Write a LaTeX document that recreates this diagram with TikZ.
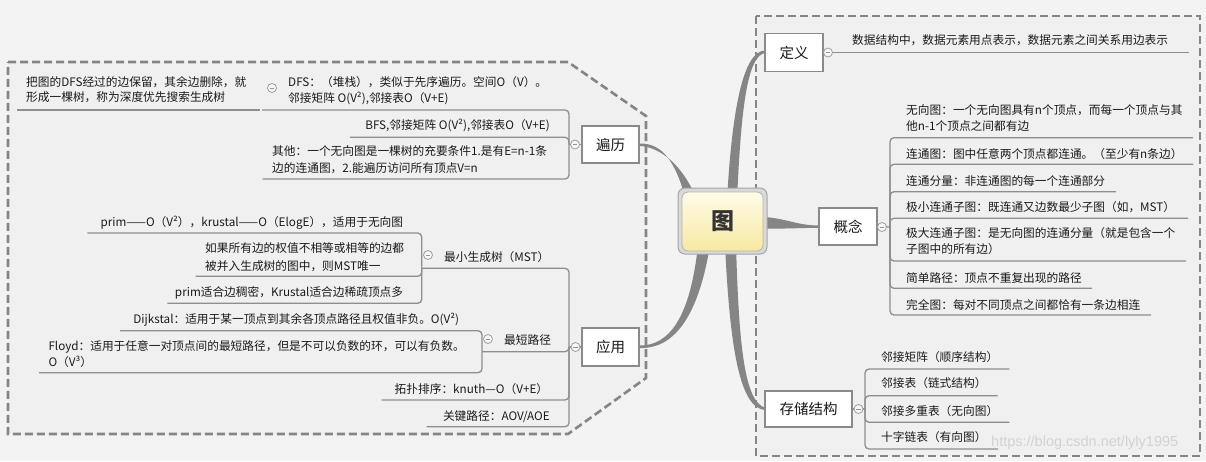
\documentclass[tikz,border=0pt]{standalone}
\usepackage{fontspec}
\setmainfont{Noto Sans CJK SC}
\newfontfamily\wmfont{Liberation Sans}
\definecolor{bg}{HTML}{F3F3F3}
\definecolor{regionbg}{HTML}{F0F0F0}
\definecolor{dashc}{HTML}{858585}
\definecolor{branch}{HTML}{858585}
\definecolor{lineg}{HTML}{8E8E8E}
\definecolor{boxb}{HTML}{8A8A8A}
\definecolor{txt}{HTML}{1A1A1A}
\definecolor{rtop}{HTML}{FFFBE8}
\definecolor{rbot}{HTML}{F7E9A2}
\tikzset{
  region/.style={draw=dashc, line width=2.6, dash pattern=on 8 off 4, fill=regionbg},
  sub/.style={draw=lineg, line width=1.3, rounded corners=4},
  topic/.style={draw=boxb, line width=1.6, fill=white, inner sep=0,
    font=\fontsize{14.5}{16}\selectfont, text=txt},
  lbl/.style={inner sep=0, anchor=base west, yshift=-4.4pt, font=\fontsize{11.7}{14}\selectfont, text=txt},
  lblr/.style={lbl, anchor=base east},
  col/.style={circle, draw=gray!75, fill=white!94!gray, line width=0.8, minimum size=9, inner sep=0,
    path picture={\draw[gray!85, line width=0.8] ([xshift=-2.2pt]path picture bounding box.center) -- ([xshift=2.2pt]path picture bounding box.center);}},
}
\begin{document}
\begin{tikzpicture}[x=1pt,y=-1pt]
\useasboundingbox (0,0) rectangle (1206,461);
\fill[bg] (0,0) rectangle (1206,461);
% regions
\draw[region] (8,62) -- (568,62) -- (646,116) -- (646,378) -- (568,434) -- (8,434) -- cycle;
\draw[region] (756,16) rectangle (1200,456);

% main tapered branches
\fill[branch] (727,200) .. controls (732,110) and (743,51) .. (765,50.5) -- (765,53) .. controls (747,56) and (741,110) .. (737,200) -- cycle;
\fill[branch] (755,216.5) .. controls (785,217) and (795,225.5) .. (819,225.5) -- (819,227.8) .. controls (795,228) and (785,229) .. (755,228.5) -- cycle;
\fill[branch] (725,245) .. controls (730,350) and (740,408) .. (765,410) -- (765,407.8) .. controls (745,401) and (739,350) .. (736,245) -- cycle;
\fill[branch] (686,200) .. controls (675,160) and (662,143.5) .. (640,143.5) -- (640,146) .. controls (660,147) and (683,165) .. (697,200) -- cycle;
\fill[branch] (698,245) .. controls (690,320) and (668,345.5) .. (640,345.5) -- (640,348) .. controls (672,349) and (698,320) .. (710,245) -- cycle;

% root
\node[draw=gray!70, fill=gray!30, line width=1, rounded corners=7, minimum width=89, minimum height=66, inner sep=0] (rootframe) at (722.5,221) {};
\node[draw=gray!60, line width=0.8, rounded corners=6, top color=rtop, bottom color=rbot, minimum width=81, minimum height=59, inner sep=0, font=\fontsize{23}{25}\selectfont\bfseries, text=black!80] (root) at (722.5,221.5) {图};

% topics
\node[topic, minimum width=58, minimum height=38] (dy) at (794,52.5) {定义};
\node[topic, minimum width=58, minimum height=37] (gn) at (848,226.5) {概念};
\node[topic, minimum width=57, minimum height=37] (bl) at (610.5,144.5) {遍历};
\node[topic, minimum width=57, minimum height=38] (yy) at (610.5,347) {应用};
\node[topic, minimum width=87, minimum height=36] (cc) at (808.5,409) {存储结构};

% junction coordinates
\coordinate (jgn) at (890,227);
\coordinate (jbl) at (569,144.5);
\coordinate (jyy) at (569,347);
\coordinate (jmst) at (421.7,268.3);
\coordinate (jsp) at (482,351.7);
\coordinate (jcc) at (865,409);

% sub connectors
\draw[sub] (dy.east) -- (1189,52.5);
\draw[sub] (gn.east) -- (jgn);
\foreach \y/\e in {137.7/1193,164.3/1193,191.7/1116,218.3/1188,261/1186,288.3/1092,315/1151}
  \draw[sub] (jgn) |- (\e,\y);
\draw[sub] (bl.west) -- (jbl);
\foreach \y/\e in {110/262,137.3/350,179/262.7}
  \draw[sub] (jbl) |- (\e,\y);
\draw[sub] (17,110) -- (260,110);
\draw[sub] (yy.west) -- (jyy);
\foreach \y/\e in {268.3/421.7,351.7/482,400/381.7,426.7/426.7}
  \draw[sub] (jyy) |- (\e,\y);
\foreach \y/\e in {233/87.3,276.3/195.7,303.3/167.3}
  \draw[sub] (jmst) |- (\e,\y);
\foreach \y/\e in {330.7/120,372.7/39}
  \draw[sub] (jsp) |- (\e,\y);
\draw[sub] (cc.east) -- (jcc);
\foreach \y/\e in {369/1009.3,395.7/997.7,422.3/1009.3,449/998}
  \draw[sub] (jcc) |- (\e,\y);

% collapse markers
\node[col] (dyc) at (828,52.5) {};
\node[col] (gnc) at (882,227) {};
\node[col] (blc) at (575,144.5) {};
\node[col] (yyc) at (575.5,347) {};
\node[col] (ccc) at (858.5,409) {};
\node[col] (dfsc) at (272,88) {};
\node[col] (mstc) at (428,255) {};
\node[col] (spc) at (488,339) {};

% left texts
\node[lbl] (t1a) at (26,81.7) {把图的DFS经过的边保留，其余边删除，就};
\node[lbl] (t1b) at (26,97.3) {形成一棵树，称为深度优先搜索生成树};
\node[lbl] (t2a) at (288,82.3) {DFS：（堆栈），类似于先序遍历。空间O（V）。};
\node[lbl] (t2b) at (288,97.7) {邻接矩阵 O(V²),邻接表O（V+E)};
\node[lblr] (t3) at (550,125) {BFS,邻接矩阵 O(V²),邻接表O（V+E)};
\node[lbl] (t4a) at (272,150.7) {其他：一个无向图是一棵树的充要条件1.是有E=n-1条};
\node[lbl] (t4b) at (272,167.7) {边的连通图，2.能遍历访问所有顶点V=n};
\node[lblr] (t5) at (403.3,221.7) {prim——O（V²），krustal——O（ElogE），适用于无向图};
\node[lbl] (t6a) at (205,248.3) {如果所有边的权值不相等或相等的边都};
\node[lbl] (t6b) at (205,265.7) {被并入生成树的图中，则MST唯一};
\node[lblr] (t7) at (403.3,292.3) {prim适合边稠密，Krustal适合边稀疏顶点多};
\node[lbl] (t8) at (444,257.3) {最小生成树（MST）};
\node[lblr] (t9) at (459.3,319) {Dijkstal：适用于某一顶点到其余各顶点路径且权值非负。O(V²)};
\node[lbl] (t10a) at (48.3,346) {Floyd：适用于任意一对顶点间的最短路径，但是不可以负数的环，可以有负数。};
\node[lbl] (t10b) at (48.3,362.3) {O（V³）};
\node[lbl] (t11) at (504,340) {最短路径};
\node[lblr] (t12) at (548.3,389) {拓扑排序：knuth—O（V+E）};
\node[lblr] (t13) at (550,415.7) {关键路径：AOV/AOE};

% right texts
\node[lbl] (r1) at (852,40) {数据结构中，数据元素用点表示，数据元素之间关系用边表示};
\node[lbl] (r2a) at (906,110) {无向图：一个无向图具有n个顶点，而每一个顶点与其};
\node[lbl] (r2b) at (906,126) {他n-1个顶点之间都有边};
\node[lbl] (r3) at (906,154) {连通图：图中任意两个顶点都连通。（至少有n条边）};
\node[lbl] (r4) at (906,180.7) {连通分量：非连通图的每一个连通部分};
\node[lbl] (r5) at (906,207) {极小连通子图：既连通又边数最少子图（如，MST）};
\node[lbl] (r6a) at (906,232.7) {极大连通子图：是无向图的连通分量（就是包含一个};
\node[lbl] (r6b) at (906,249) {子图中的所有边）};
\node[lbl] (r7) at (906,277.7) {简单路径：顶点不重复出现的路径};
\node[lbl] (r8) at (906,305) {完全图：每对不同顶点之间都恰有一条边相连};
\node[lbl] (s1) at (881,356.7) {邻接矩阵（顺序结构）};
\node[lbl] (s2) at (881,383.3) {邻接表（链式结构）};
\node[lbl] (s3) at (881,410.7) {邻接多重表（无向图）};
\node[lbl] (s4) at (881,437.3) {十字链表（有向图）};

% watermark
\node[inner sep=0, anchor=west, font=\wmfont\fontsize{14.5}{16}\selectfont, text=gray!35] (wm) at (991,442.5) {https://blog.csdn.net/lyly1995};
\end{tikzpicture}
\end{document}
